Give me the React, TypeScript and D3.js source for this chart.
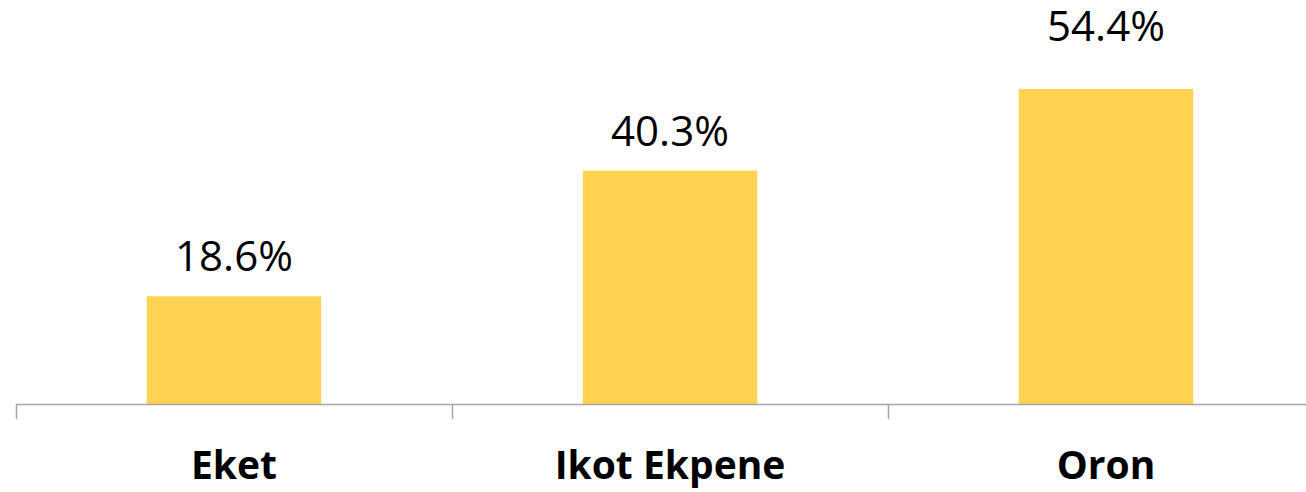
import { useEffect, useRef } from 'react';
import * as d3 from 'd3';

const categories = ['Eket', 'Ikot Ekpene', 'Oron'];
const values = [18.6, 40.3, 54.4];

export default function App() {
  const svgRef = useRef<SVGSVGElement>(null);

  useEffect(() => {
    if (!svgRef.current) return;
    const width = 1306;
    const height = 492;
    const baseline = 404;

    d3.select(svgRef.current).selectAll('*').remove();
    const svg = d3.select(svgRef.current)
      .attr('width', width)
      .attr('height', height)
      .attr('viewBox', `0 0 ${width} ${height}`);

    const x = d3.scaleBand<string>()
      .domain(categories)
      .range([16, 16 + 436 * categories.length])
      .paddingInner(0.6)
      .paddingOuter(0.3);

    // band step without padding, for the tick marks between categories
    const step = 436;

    const y = d3.scaleLinear().domain([0, 60]).range([baseline, baseline - 60 * 5.79]);

    const maxV = d3.max(values) || 0;

    // Bars
    svg.append('g')
      .selectAll('rect')
      .data(values)
      .enter()
      .append('rect')
      .attr('x', (_, i) => x(categories[i])!)
      .attr('y', d => y(d))
      .attr('width', x.bandwidth())
      .attr('height', d => baseline - y(d))
      .style('fill', '#FFD24F');

    // Value labels (tallest one sits at the top of the plot)
    svg.append('g')
      .selectAll('text')
      .data(values)
      .enter()
      .append('text')
      .attr('x', (_, i) => x(categories[i])! + x.bandwidth() / 2)
      .attr('y', d => d === maxV ? 41 : y(d) - 25)
      .attr('text-anchor', 'middle')
      .text(d => `${d.toFixed(1)}%`)
      .style('fill', '#000000')
      .style('font-family', '"Open Sans", sans-serif')
      .style('font-size', '42px');

    // Axis line
    svg.append('line')
      .attr('x1', 16).attr('x2', width)
      .attr('y1', baseline + 0.5).attr('y2', baseline + 0.5)
      .style('stroke', '#A6A6A6')
      .style('stroke-width', '1.5px');

    // Ticks at band boundaries
    svg.append('g')
      .selectAll('line')
      .data(d3.range(categories.length + 1))
      .enter()
      .append('line')
      .attr('x1', i => 16.5 + i * step)
      .attr('x2', i => 16.5 + i * step)
      .attr('y1', baseline)
      .attr('y2', baseline + 15)
      .style('stroke', '#A6A6A6')
      .style('stroke-width', '1.5px');

    // Category labels
    svg.append('g')
      .selectAll('text')
      .data(categories)
      .enter()
      .append('text')
      .attr('x', d => x(d)! + x.bandwidth() / 2)
      .attr('y', 479)
      .attr('text-anchor', 'middle')
      .text(d => d)
      .style('fill', '#000000')
      .style('font-family', '"Open Sans", sans-serif')
      .style('font-weight', 'bold')
      .style('font-size', '39px');
  }, []);

  return (
    <div style={{ position: 'absolute', left: 0, top: 0, width: 1306, height: 492, background: '#fff' }}>
      <svg ref={svgRef} style={{ display: 'block' }} />
    </div>
  );
}
